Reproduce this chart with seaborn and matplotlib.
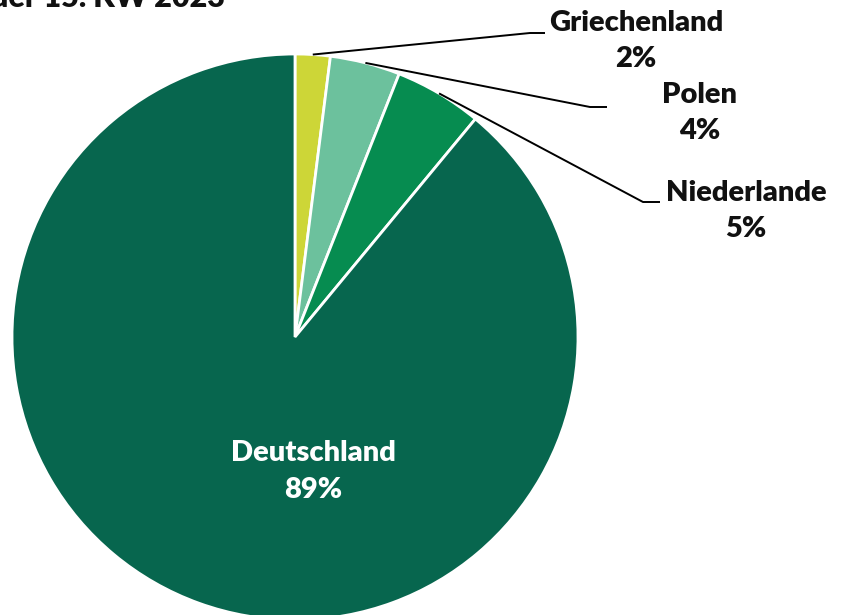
import matplotlib
matplotlib.use("Agg")
import matplotlib.pyplot as plt
import seaborn as sns
import numpy as np

# Shares by country of origin
countries = ["Griechenland", "Polen", "Niederlande", "Deutschland"]
shares = [2, 4, 5, 89]
colors = ["#CDD637", "#6CC19D", "#068C50", "#07664E"]

sns.set_theme(style="white")
plt.rcParams["font.family"] = ["Lato", "DejaVu Sans"]

W, H = 846, 615
fig = plt.figure(figsize=(W / 100, H / 100), dpi=100)
ax = fig.add_axes([0, 0, 1, 1])

cx, cy, r = 295, H - 337, 283
palette = sns.color_palette(colors)
wedges, _ = ax.pie(
    shares,
    colors=palette,
    startangle=90,
    counterclock=False,
    center=(cx, cy),
    radius=r,
    wedgeprops=dict(edgecolor="white", linewidth=2),
    frame=True,
)
ax.set_xlim(0, W)
ax.set_ylim(0, H)
ax.set_aspect("equal")
ax.axis("off")

# label and elbow positions for the small slices (pixel coords from top)
callouts = {
    "Griechenland": dict(elbow=(530, 33), end=(545, 33), text=(636, 23)),
    "Polen": dict(elbow=(590, 107), end=(607, 107), text=(700, 95)),
    "Niederlande": dict(elbow=(643, 202), end=(660, 202), text=(746, 193)),
}

fs = 21
weight = "heavy"
for w, name, val in zip(wedges, countries, shares):
    mid = np.deg2rad((w.theta1 + w.theta2) / 2)
    if name in callouts:
        c = callouts[name]
        sx, sy = cx + r * np.cos(mid), cy + r * np.sin(mid)
        ex, ey = c["elbow"]
        tx, ty = c["end"]
        ax.plot([sx, ex, tx], [sy, H - ey, H - ty], color="black", lw=1.4,
                solid_capstyle="butt")
        lx, ly = c["text"]
        ax.text(lx, H - ly, name, ha="center", va="center", fontsize=fs,
                fontweight=weight, color="#111111")
        ax.text(lx, H - ly - 36, f"{val}%", ha="center", va="center",
                fontsize=fs, fontweight=weight, color="#111111")
    else:
        ax.text(313, H - 453, name, ha="center", va="center", fontsize=fs,
                fontweight=weight, color="white")
        ax.text(313, H - 490, f"{val}%", ha="center", va="center",
                fontsize=fs, fontweight=weight, color="white")

ax.text(225, H - 7, "in der 15. KW 2023", ha="right", va="baseline",
        fontsize=22, fontweight=weight, color="#111111")

fig.savefig("out.png", dpi=100)
